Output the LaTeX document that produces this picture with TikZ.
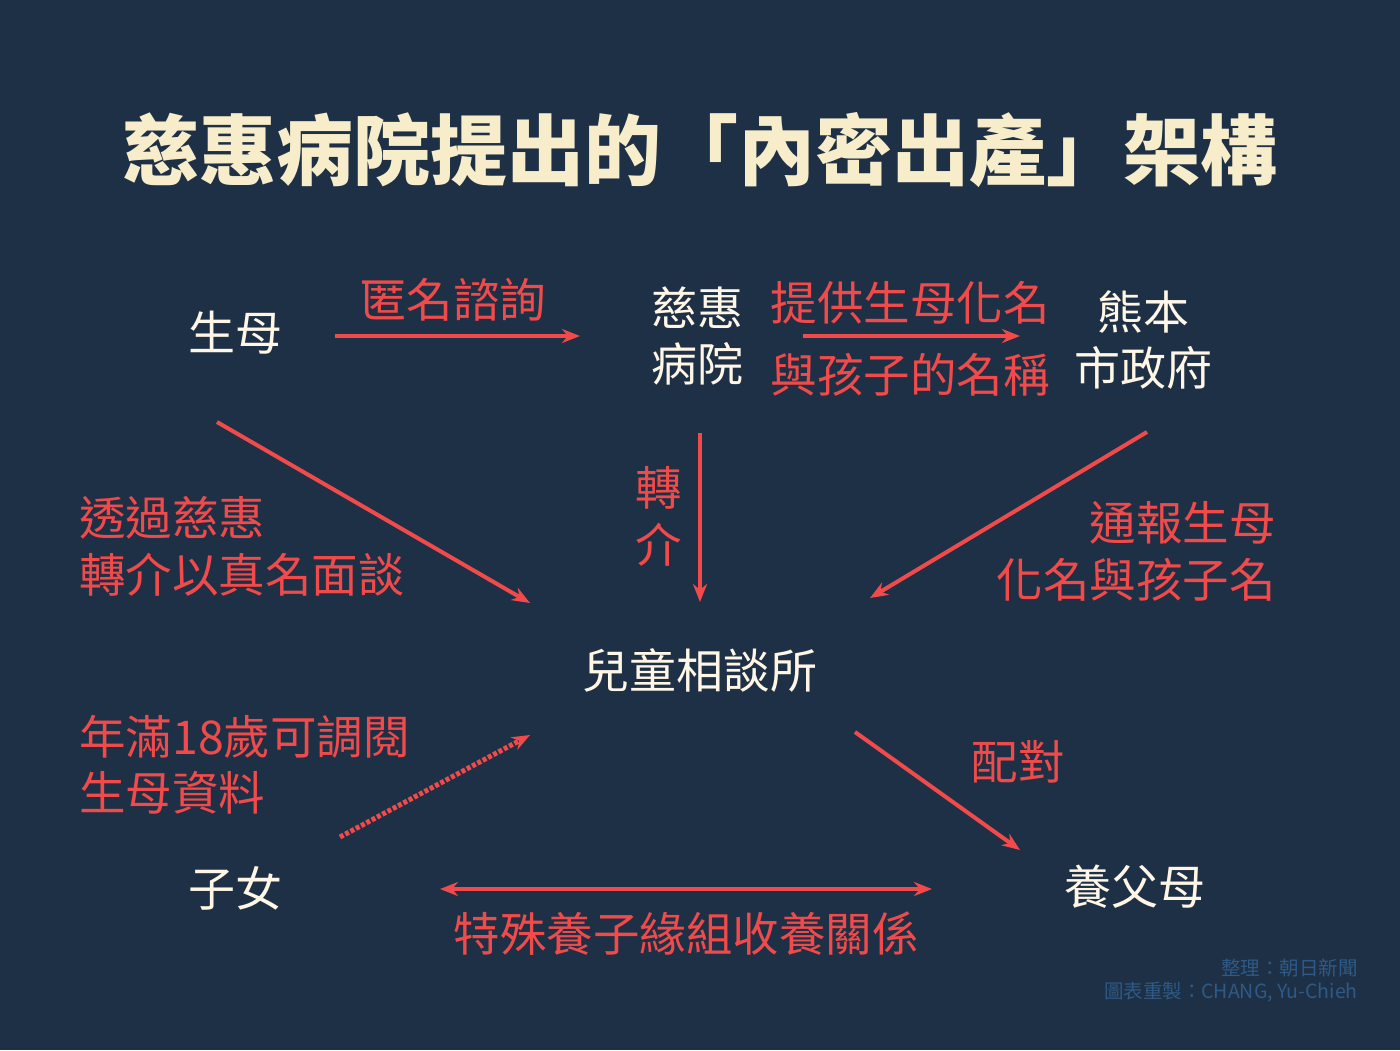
\documentclass[tikz,border=0pt]{standalone}
\usepackage{fontspec}
\setmainfont{Noto Sans CJK TC}
\usetikzlibrary{arrows.meta}
\definecolor{bg}{HTML}{1E3045}
\definecolor{rd}{HTML}{F04A4A}
\definecolor{cr}{HTML}{F7EDCB}
\definecolor{wt}{HTML}{FFF6E6}
\definecolor{cb}{HTML}{2D5A86}
\tikzset{
 ent/.style={text=wt,font=\fontsize{47}{56}\selectfont,align=center,inner sep=0},
 lab/.style={text=rd,font=\fontsize{46.5}{56}\selectfont,inner sep=0},
 arr/.style={draw=rd,line width=4pt,-{Stealth[length=18pt,width=14pt]}},
}
\begin{document}
\begin{tikzpicture}[x=1pt,y=-1pt]
\fill[bg] (0,0) rectangle (1400,1050);
\useasboundingbox (0,0) rectangle (1400,1050);
\node[text=cr,font=\fontsize{77}{84}\selectfont\bfseries,inner sep=0] (title) at (700,150) {慈惠病院提出的「內密出產」架構};
\node[ent] (mom) at (235,333) {生母};
\node[ent,font=\fontsize{46}{56}\selectfont] (hosp) at (697,336) {慈惠\\病院};
\node[ent,font=\fontsize{46}{56}\selectfont] (city) at (1143,340) {熊本\\市政府};
\node[ent] (cc) at (700,670) {兒童相談所};
\node[ent] (kid) at (235,888) {子女};
\node[ent] (adp) at (1135,887) {養父母};
\coordinate (a1) at (335,336); \coordinate (a2) at (580,336);
\coordinate (b1) at (803,336); \coordinate (b2) at (1020,336);
\coordinate (c1) at (217,422); \coordinate (c2) at (530,603);
\coordinate (d1) at (700,433); \coordinate (d2) at (700,602);
\coordinate (e1) at (1147,432); \coordinate (e2) at (870,598);
\coordinate (f1) at (340,837); \coordinate (f2) at (530,735);
\coordinate (g1) at (855,732); \coordinate (g2) at (1020,850);
\coordinate (h1) at (440,889); \coordinate (h2) at (932,889);
\draw[arr] (a1) -- (a2);
\draw[arr] (b1) -- (b2);
\draw[arr] (c1) -- (c2);
\draw[arr] (d1) -- (d2);
\draw[arr] (e1) -- (e2);
\draw[arr,dotted,line width=5pt] (f1) -- (f2);
\draw[arr] (g1) -- (g2);
\draw[arr,{Stealth[length=18pt,width=14pt]}-{Stealth[length=18pt,width=14pt]}] (h1) -- (h2);
\node[lab] (l1) at (453,300) {匿名諮詢};
\node[lab] (l2) at (910,303) {提供生母化名};
\node[lab] (l3) at (910,375) {與孩子的名稱};
\node[lab] (l4) at (659,488) {轉};
\node[lab] (l5) at (659,545) {介};
\node[lab,anchor=west] (l6) at (79,518) {透過慈惠};
\node[lab,anchor=west] (l7) at (79,575) {轉介以真名面談};
\node[lab,anchor=east] (l8) at (1276,523) {通報生母};
\node[lab,anchor=east] (l9) at (1276,580) {化名與孩子名};
\node[lab,anchor=west] (l10) at (79,737) {年滿18歲可調閱};
\node[lab,anchor=west] (l11) at (79,793) {生母資料};
\node[lab] (l12) at (1018,762) {配對};
\node[lab] (l13) at (686,934) {特殊養子緣組收養關係};
\node[text=cb,font=\fontsize{19.5}{23}\selectfont,anchor=east,inner sep=0] (cr1) at (1358,968) {整理：朝日新聞};
\node[text=cb,font=\fontsize{19.5}{23}\selectfont,anchor=east,inner sep=0] (cr2) at (1358,992) {圖表重製：CHANG, Yu-Chieh};
\end{tikzpicture}
\end{document}
